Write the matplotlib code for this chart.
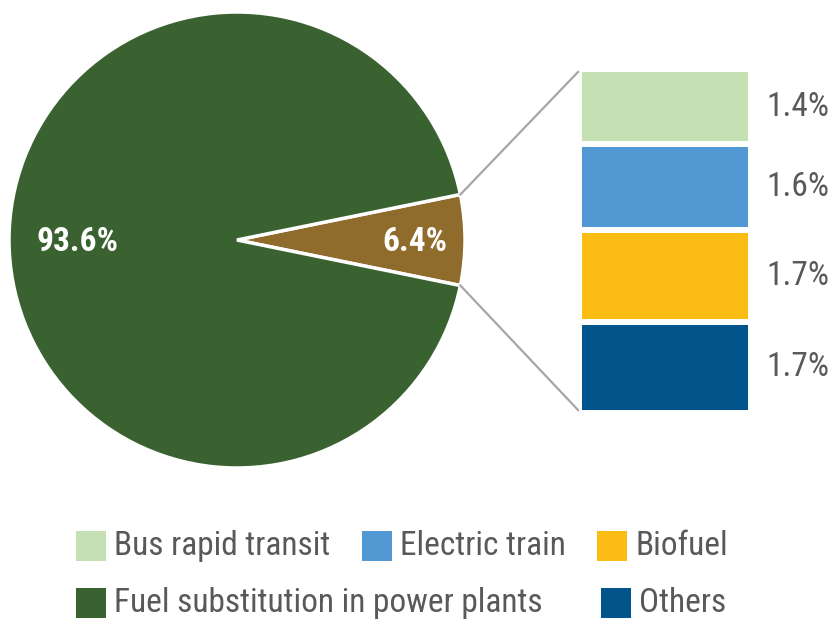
import matplotlib
matplotlib.use("Agg")
import matplotlib.pyplot as plt
from matplotlib import font_manager as fm
from matplotlib.patches import Rectangle
import numpy as np

names = {f.name for f in fm.fontManager.ttflist}
FONT = "Roboto"
for cand in ["Roboto Condensed", "Liberation Sans Narrow", "Roboto"]:
    if cand in names:
        FONT = cand
        break
plt.rcParams['font.family'] = [FONT, 'DejaVu Sans']

# data
pie_labels = ["Others combined", "Fuel substitution in power plants"]
pie_values = [6.4, 93.6]
pie_colors = ["#8f6c2c", "#3a6130"]

bar_labels = ["Others", "Biofuel", "Electric train", "Bus rapid transit"]  # bottom to top
bar_values = [1.7, 1.7, 1.6, 1.4]
bar_colors = ["#02558b", "#fbbd13", "#5298d3", "#c5e0b3"]

legend_labels = ["Bus rapid transit", "Electric train", "Biofuel",
                 "Fuel substitution in power plants", "Others"]
legend_colors = ["#c5e0b3", "#5298d3", "#fbbd13", "#3a6130", "#02558b"]

W, H = 830, 619
fig = plt.figure(figsize=(W/100, H/100), dpi=100)
ax = fig.add_axes([0, 0, 1, 1])

cx, cy, r = 237, H - 240, 228
half = pie_values[0] / 100 * 360 / 2
wedges, _ = ax.pie(pie_values, colors=pie_colors, startangle=-half,
                   center=(cx, cy), radius=r, counterclock=True,
                   wedgeprops=dict(edgecolor="white", linewidth=2.5))
ax.set_xlim(0, W)
ax.set_ylim(0, H)
ax.set_aspect('equal')
ax.axis('off')

# pie labels
ax.text(77, cy - 2, f"{pie_values[1]}%", color="white", fontsize=24,
        fontweight="bold", ha="center", va="center")
ax.text(415, cy - 2, f"{pie_values[0]}%", color="white", fontsize=24,
        fontweight="bold", ha="center", va="center")

# stacked bar
lw = 4.3
pad = lw / 72 * 100 / 2
bx0, bx1 = 582 - pad, 748 + pad
btop, bbot = H - 72 + pad, H - 410 - pad
scale = (btop - bbot) / sum(bar_values)
bottom = bbot
for lab, v, c in zip(bar_labels, bar_values, bar_colors):
    hgt = v * scale
    ax.bar((bx0 + bx1) / 2, hgt, width=bx1 - bx0, bottom=bottom, color=c,
           edgecolor="white", linewidth=lw)
    ax.text(766, bottom + hgt / 2, f"{v}%", fontsize=24, color="#595959",
            ha="left", va="center")
    bottom += hgt

# connector lines
a = np.deg2rad(half)
px = cx + r * np.cos(a)
ax.plot([px, 578], [cy + r * np.sin(a), H - 72], color="#a6a6a6", lw=1.6)
ax.plot([px, 578], [cy - r * np.sin(a), H - 410], color="#a6a6a6", lw=1.6)

# legend
pos = [(76, 546), (362, 546), (597, 546), (76, 603), (601, 603)]
for (x, y), lab, c in zip(pos, legend_labels, legend_colors):
    ax.add_patch(Rectangle((x, H - y - 15), 30, 30, color=c, lw=0))
    ax.text(x + 38, H - y, lab, fontsize=24, color="#595959",
            ha="left", va="center")

fig.savefig("out.png", dpi=100)
